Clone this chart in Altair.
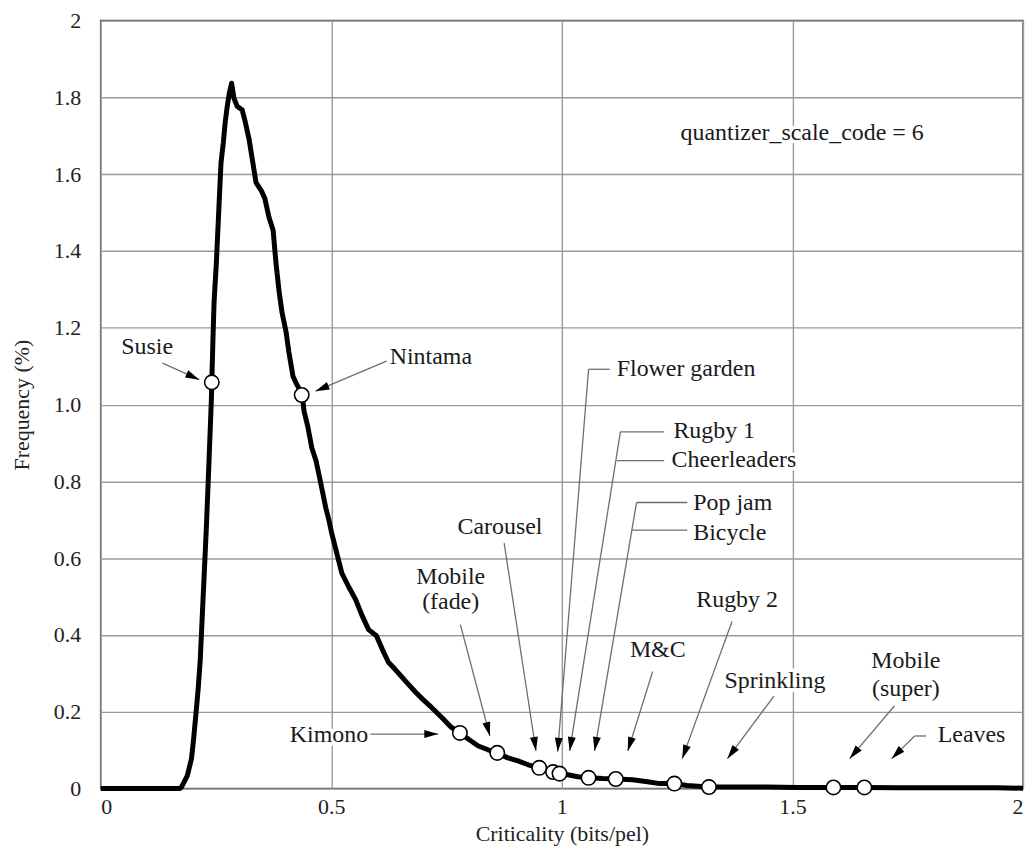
import math
import altair as alt
import pandas as pd

W, H = 926, 771

# Frequency curve (criticality in bits/pel, frequency in %)
curve_x = [0.0, 0.171, 0.175, 0.188, 0.197, 0.201, 0.207, 0.212, 0.216, 0.222, 0.229, 0.235,
           0.240, 0.241, 0.244, 0.246, 0.251, 0.255, 0.257, 0.261, 0.266, 0.270, 0.274, 0.279,
           0.284, 0.289, 0.296, 0.307, 0.313, 0.322, 0.330, 0.337, 0.348, 0.356, 0.365, 0.374,
           0.380, 0.387, 0.393, 0.402, 0.408, 0.417, 0.425, 0.434, 0.437, 0.441, 0.449, 0.458,
           0.467, 0.473, 0.482, 0.488, 0.495, 0.501, 0.512, 0.523, 0.538, 0.553, 0.566, 0.581,
           0.598, 0.611, 0.624, 0.639, 0.652, 0.667, 0.683, 0.698, 0.717, 0.743, 0.760, 0.779,
           0.797, 0.819, 0.840, 0.860, 0.883, 0.905, 0.927, 0.951, 0.968, 0.981, 0.995, 1.013,
           1.035, 1.058, 1.089, 1.117, 1.153, 1.186, 1.212, 1.244, 1.272, 1.319, 1.380, 1.445,
           1.510, 1.589, 1.618, 1.656, 1.726, 1.834, 1.942, 2.0]
curve_y = [0.0, 0.0, 0.003, 0.034, 0.078, 0.122, 0.199, 0.267, 0.336, 0.492, 0.673, 0.854,
           1.009, 1.058, 1.190, 1.268, 1.371, 1.475, 1.527, 1.630, 1.682, 1.734, 1.772, 1.811,
           1.837, 1.798, 1.777, 1.767, 1.739, 1.690, 1.630, 1.578, 1.558, 1.537, 1.488, 1.454,
           1.371, 1.294, 1.242, 1.190, 1.138, 1.074, 1.053, 1.035, 1.025, 0.983, 0.944, 0.887,
           0.854, 0.820, 0.768, 0.732, 0.699, 0.665, 0.613, 0.561, 0.525, 0.492, 0.453, 0.414,
           0.398, 0.362, 0.329, 0.310, 0.292, 0.272, 0.251, 0.233, 0.212, 0.181, 0.160, 0.145,
           0.129, 0.111, 0.101, 0.093, 0.080, 0.072, 0.062, 0.054, 0.047, 0.043, 0.039, 0.036,
           0.031, 0.028, 0.026, 0.025, 0.023, 0.018, 0.013, 0.013, 0.008, 0.004, 0.004, 0.004,
           0.003, 0.003, 0.003, 0.003, 0.002, 0.002, 0.002, 0.001]

# Sequence markers (open circles)
circle_x = [0.241, 0.436, 0.779, 0.860, 0.951, 0.981, 0.995, 1.058, 1.117, 1.244, 1.319, 1.589, 1.656]
circle_y = [1.058, 1.025, 0.145, 0.093, 0.054, 0.043, 0.039, 0.028, 0.025, 0.013, 0.004, 0.003, 0.003]

# Annotation labels
label_text = ["Susie", "Nintama", "Flower garden", "Rugby 1", "Cheerleaders", "Pop jam", "Bicycle",
              "Carousel", "Mobile", "(fade)", "Kimono", "M&C", "Rugby 2", "Sprinkling",
              "Mobile", "(super)", "Leaves", "quantizer_scale_code = 6"]
label_x = [0.101, 0.716, 1.119, 1.242, 1.238, 1.285, 1.285,
           0.866, 0.759, 0.759, 0.495, 1.208, 1.380, 1.462,
           1.746, 1.746, 1.815, 1.521]
label_y = [1.149, 1.125, 1.092, 0.930, 0.856, 0.744, 0.666,
           0.681, 0.552, 0.485, 0.140, 0.362, 0.492, 0.280,
           0.332, 0.259, 0.140, 1.708]
label_align = ["center", "center", "left", "left", "left", "left", "left",
               "center", "center", "center", "center", "center", "center", "center",
               "center", "center", "left", "center"]

# Leader line segments
seg_x1 = [0.134, 0.620, 0.585, 0.780, 0.875, 1.104, 1.058, 1.222, 1.127, 1.222, 1.272, 1.162, 1.272,
          1.197, 1.369, 1.460, 1.721, 1.790, 1.765]
seg_y1 = [1.108, 1.113, 0.142, 0.427, 0.639, 1.092, 1.092, 0.929, 0.929, 0.854, 0.745, 0.745, 0.673,
          0.305, 0.435, 0.241, 0.215, 0.137, 0.137]
seg_x2 = [0.214, 0.466, 0.732, 0.844, 0.944, 1.058, 0.991, 1.127, 1.017, 1.119, 1.162, 1.071, 1.151,
          1.143, 1.261, 1.359, 1.624, 1.765, 1.715]
seg_y2 = [1.065, 1.035, 0.142, 0.137, 0.098, 1.092, 0.096, 0.929, 0.098, 0.854, 0.745, 0.098, 0.673,
          0.098, 0.078, 0.078, 0.078, 0.137, 0.078]

# Arrow heads: tip and the point the arrow comes from
head_x = [0.214, 0.466, 0.732, 0.844, 0.944, 0.991, 1.017, 1.071, 1.143, 1.261, 1.359, 1.624, 1.715]
head_y = [1.065, 1.035, 0.142, 0.137, 0.098, 0.096, 0.098, 0.098, 0.098, 0.078, 0.078, 0.078, 0.078]
from_x = [0.134, 0.620, 0.585, 0.780, 0.875, 1.058, 1.127, 1.162, 1.197, 1.369, 1.460, 1.721, 1.765]
from_y = [1.108, 1.113, 0.142, 0.427, 0.639, 1.092, 0.929, 0.745, 0.305, 0.435, 0.241, 0.215, 0.137]

FONT = "'Liberation Serif', 'Times New Roman', Times, serif"

curve_df = pd.DataFrame({"x": curve_x, "y": curve_y, "i": range(len(curve_x))})
circ_df = pd.DataFrame({"x": circle_x, "y": circle_y})
lab_df = pd.DataFrame({"t": label_text, "x": label_x, "y": label_y, "a": label_align})
seg_df = pd.DataFrame({"x": seg_x1, "y": seg_y1, "x2": seg_x2, "y2": seg_y2})
angles = []
for hx, hy, fx, fy in zip(head_x, head_y, from_x, from_y):
    sdx = (hx - fx) * W / 2
    sdy = (hy - fy) * H / 2
    angles.append(math.degrees(math.atan2(sdx, sdy)) % 360)
head_df = pd.DataFrame({"x": head_x, "y": head_y, "ang": angles})

xs = alt.Scale(domain=[0, 2], nice=False, zero=False)
ys = alt.Scale(domain=[0, 2], nice=False, zero=False)

x_axis = alt.Axis(values=[0, 0.5, 1, 1.5, 2], format="~g", grid=True, labelPadding=8,
                  titlePadding=6)
y_axis = alt.Axis(values=[0, 0.2, 0.4, 0.6, 0.8, 1.0, 1.2, 1.4, 1.6, 1.8, 2.0],
                  labelExpr="abs(datum.value) < 1e-9 ? '0' : abs(datum.value - 2) < 1e-9 ? '2' : format(datum.value, '.1f')",
                  grid=True, labelPadding=20, titlePadding=20)

curve = alt.Chart(curve_df).mark_line(color="black", strokeWidth=5, strokeJoin="round").encode(
    x=alt.X("x:Q", scale=xs, axis=x_axis, title="Criticality (bits/pel)"),
    y=alt.Y("y:Q", scale=ys, axis=y_axis, title="Frequency (%)"),
    order="i:Q",
)

def text_layers(halo):
    layers = []
    for al in ["left", "center"]:
        kw = dict(align=al, baseline="middle", font=FONT, fontSize=24)
        if halo:
            kw.update(stroke="white", strokeWidth=7, color="white")
        else:
            kw.update(color="#1a1a1a")
        layers.append(
            alt.Chart(lab_df).transform_filter(alt.datum.a == al).mark_text(**kw).encode(
                x=alt.X("x:Q", scale=xs), y=alt.Y("y:Q", scale=ys), text="t:N")
        )
    return layers

segs = alt.Chart(seg_df).mark_rule(color="#6e6e6e", strokeWidth=1.3).encode(
    x=alt.X("x:Q", scale=xs), y=alt.Y("y:Q", scale=ys), x2="x2:Q", y2="y2:Q")

heads = alt.Chart(head_df).mark_point(
    shape="M0,0L0.5,1.75L-0.5,1.75Z", filled=True, color="black", size=256, opacity=1, strokeWidth=0
).encode(x=alt.X("x:Q", scale=xs), y=alt.Y("y:Q", scale=ys), angle=alt.Angle("ang:Q", scale=None))

circles = alt.Chart(circ_df).mark_point(
    shape="circle", filled=True, fill="white", stroke="black", strokeWidth=1.6, size=210, opacity=1
).encode(x=alt.X("x:Q", scale=xs), y=alt.Y("y:Q", scale=ys))

chart = alt.layer(
    *text_layers(True), curve, circles, segs, heads, *text_layers(False)
).properties(
    width=W, height=H,
    autosize=alt.AutoSizeParams(type="none"),
    padding={"left": 93, "top": 11, "right": 4, "bottom": 62},
).configure_view(
    stroke="#555555", strokeWidth=1.5
).configure_axis(
    domain=False, ticks=False, gridColor="#9a9a9a", gridWidth=1.4,
    labelFont=FONT, labelFontSize=22, labelColor="#222222",
    titleFont=FONT, titleFontSize=22, titleFontWeight="normal", titleColor="#222222",
).configure_axisY(labelAlign="right")

chart.save("out.html", embed_options={"renderer": "svg", "actions": False})
